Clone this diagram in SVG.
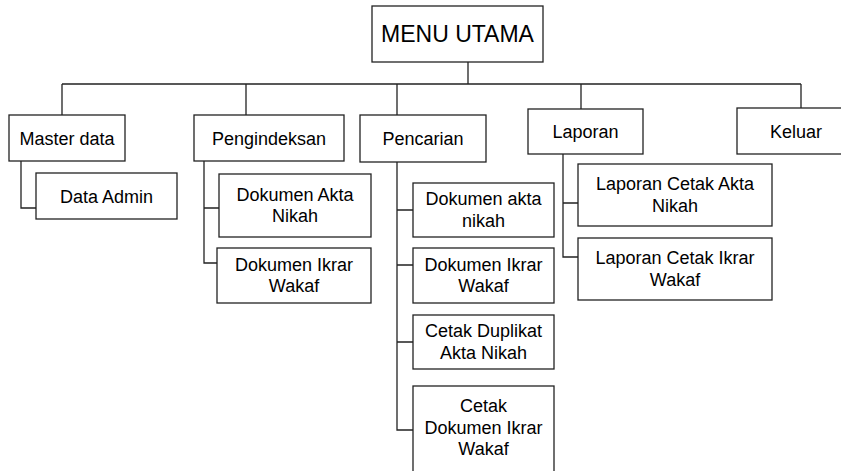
<svg xmlns="http://www.w3.org/2000/svg" width="841" height="471" viewBox="0 0 841 471">
<style>
.box{fill:#fff;stroke:#222;stroke-width:1.3}
.ln{fill:none;stroke:#222;stroke-width:1.3}
text{font-family:"Liberation Sans",Arial,sans-serif;font-size:18px;fill:#000;text-anchor:middle}
.big{font-size:23px}
</style>
<rect width="841" height="471" fill="#fff"/>
<g id="connectors">
<path class="ln" d="M468 62V84M62 84H801M62 84V115M246 84V115M397 84V115M581 84V109M801 84V113"/>
<path class="ln" d="M21 161V208H36"/>
<path class="ln" d="M204 161V263H217M204 208H219"/>
<path class="ln" d="M397 162V430H413M397 210H413M397 265H413M397 342H413"/>
<path class="ln" d="M563 154V257H578M563 203H578"/>
</g>
<g id="menu-utama"><rect class="box" x="372" y="6" width="171" height="56"/><text class="big" x="457.5" y="42">MENU UTAMA</text></g>
<g id="master-data"><rect class="box" x="9" y="115" width="116" height="46"/><text x="67" y="144.5">Master data</text></g>
<g id="data-admin"><rect class="box" x="36" y="173" width="141" height="46"/><text x="106.5" y="202.5">Data Admin</text></g>
<g id="pengindeksan"><rect class="box" x="194" y="115" width="150" height="46"/><text x="269" y="144.5">Pengindeksan</text></g>
<g id="idx-akta"><rect class="box" x="219" y="174" width="152" height="63"/><text x="295" y="201">Dokumen Akta</text><text x="295" y="222">Nikah</text></g>
<g id="idx-ikrar"><rect class="box" x="217" y="248" width="154" height="55"/><text x="294" y="270.5">Dokumen Ikrar</text><text x="294" y="292">Wakaf</text></g>
<g id="pencarian"><rect class="box" x="360" y="115" width="126" height="47"/><text x="423" y="145">Pencarian</text></g>
<g id="cari-akta"><rect class="box" x="413" y="183" width="141" height="54"/><text x="483.5" y="205">Dokumen akta</text><text x="483.5" y="226.5">nikah</text></g>
<g id="cari-ikrar"><rect class="box" x="413" y="248" width="141" height="55"/><text x="483.5" y="270.5">Dokumen Ikrar</text><text x="483.5" y="292">Wakaf</text></g>
<g id="cetak-duplikat"><rect class="box" x="413" y="315" width="141" height="54"/><text x="483.5" y="337">Cetak Duplikat</text><text x="483.5" y="358.5">Akta Nikah</text></g>
<g id="cetak-ikrar"><rect class="box" x="413" y="386" width="141" height="90"/><text x="483.5" y="412">Cetak</text><text x="483.5" y="433.5">Dokumen Ikrar</text><text x="483.5" y="455">Wakaf</text></g>
<g id="laporan"><rect class="box" x="528" y="109" width="115" height="45"/><text x="585.5" y="138">Laporan</text></g>
<g id="lap-akta"><rect class="box" x="578" y="164" width="194" height="62"/><text x="675" y="190">Laporan Cetak Akta</text><text x="675" y="211.5">Nikah</text></g>
<g id="lap-ikrar"><rect class="box" x="578" y="238" width="194" height="62"/><text x="675" y="264">Laporan Cetak Ikrar</text><text x="675" y="285.5">Wakaf</text></g>
<g id="keluar"><rect class="box" x="737" y="108" width="118" height="46"/><text x="796" y="137.5">Keluar</text></g>
</svg>
